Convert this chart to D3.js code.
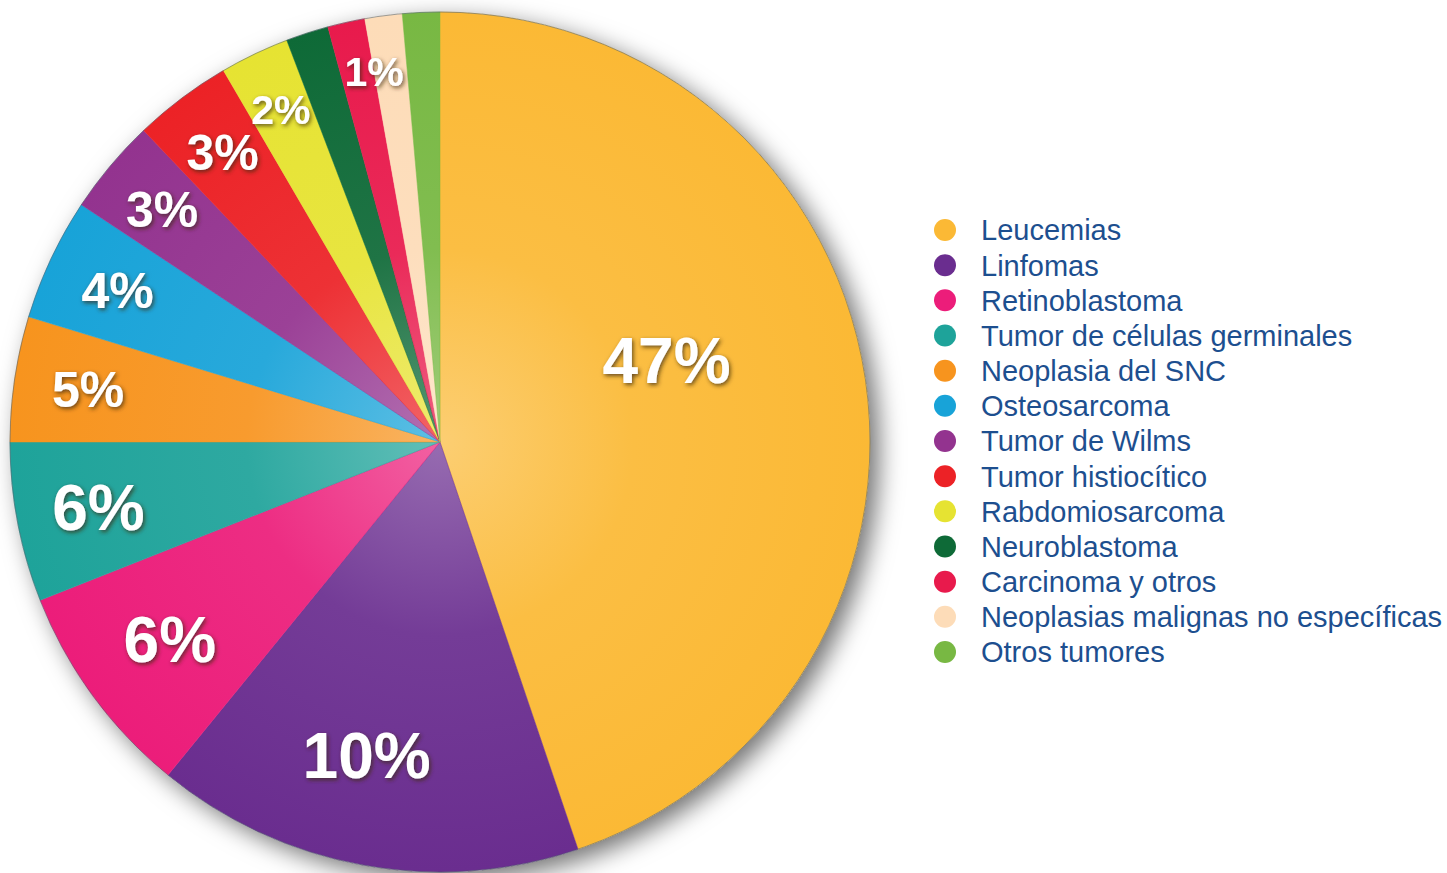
<!DOCTYPE html>
<html>
<head>
<meta charset="utf-8">
<script src="https://cdn.jsdelivr.net/npm/d3@7"></script>
<style>
  html, body { margin: 0; padding: 0; background: #fff; }
  svg { display: block; }
</style>
</head>
<body>
<svg id="chart"></svg>
<script>
// categories, in the order the slices run clockwise from 12 o'clock
const categories = [
  "Leucemias",
  "Linfomas",
  "Retinoblastoma",
  "Tumor de células germinales",
  "Neoplasia del SNC",
  "Osteosarcoma",
  "Tumor de Wilms",
  "Tumor histiocítico",
  "Rabdomiosarcoma",
  "Neuroblastoma",
  "Carcinoma y otros",
  "Neoplasias malignas no específicas",
  "Otros tumores"
];
// slice sizes (share of the circle, %)
const shares = [44.8, 16.1, 8.1, 6.0, 4.7, 4.6, 3.6, 3.7, 2.6, 1.6, 1.4, 1.4, 1.4];
// percentage labels printed on the slices
const sliceLabels = ["47%", "10%", "6%", "6%", "5%", "4%", "3%", "3%", "2%", "", "1%", "", ""];
const colors = [
  "#fbb935", "#6a2d8f", "#ec1d7a", "#1ea39a", "#f7941e", "#18a3d8", "#93338f",
  "#ec2226", "#e6e332", "#0e6a37", "#e81a4c", "#fddcb8", "#78b843"
];

const width = 1447;
const height = 873;
const cx = 440, cy = 442, R = 430;

const svg = d3.select("#chart").attr("width", width).attr("height", height);
const defs = svg.append("defs");

// soft shadow behind the pie
const shadow = defs.append("filter").attr("id", "pieShadow")
  .attr("x", "-20%").attr("y", "-20%").attr("width", "140%").attr("height", "140%");
shadow.append("feDropShadow")
  .attr("dx", 9).attr("dy", 8).attr("stdDeviation", 12)
  .attr("flood-color", "#000").attr("flood-opacity", 0.55);

// shadow under the white percentage labels
const txtShadow = defs.append("filter").attr("id", "txtShadow")
  .attr("x", "-20%").attr("y", "-20%").attr("width", "140%").attr("height", "140%");
txtShadow.append("feDropShadow")
  .attr("dx", 1.5).attr("dy", 2).attr("stdDeviation", 2)
  .attr("flood-color", "#3a2a10").attr("flood-opacity", 0.75);

// lighter toward the middle, full colour at the rim
colors.forEach((c, i) => {
  const g = defs.append("radialGradient").attr("id", "grad" + i)
    .attr("gradientUnits", "userSpaceOnUse")
    .attr("cx", 0).attr("cy", 0).attr("r", R);
  g.append("stop").attr("offset", "0%").attr("stop-color", d3.interpolateRgb(c, "#fff")(0.3));
  g.append("stop").attr("offset", "45%").attr("stop-color", d3.interpolateRgb(c, "#fff")(0.07));
  g.append("stop").attr("offset", "100%").attr("stop-color", c);
});

const data = categories.map((name, i) => ({
  name, value: shares[i], label: sliceLabels[i], color: colors[i], i
}));

const pie = d3.pie().value(d => d.value).sort(null);
const arc = d3.arc().innerRadius(0).outerRadius(R);
const arcs = pie(data);

const g = svg.append("g").attr("transform", `translate(${cx},${cy})`);

g.append("circle").attr("r", R).attr("fill", "#fff").attr("filter", "url(#pieShadow)");

g.selectAll("path.slice")
  .data(arcs)
  .enter()
  .append("path")
  .attr("class", "slice")
  .attr("d", arc)
  .attr("fill", d => `url(#grad${d.data.i})`)
  .attr("stroke", d => d.data.color)
  .attr("stroke-width", 0.5);

g.append("circle").attr("r", R).attr("fill", "none")
  .attr("stroke", "#4d5d68").attr("stroke-width", 0.8).attr("stroke-opacity", 0.7);

// label placement along each slice
function labelPos(d) {
  const span = d.endAngle - d.startAngle;
  const spanDeg = span * 180 / Math.PI;
  let a = (d.startAngle + d.endAngle) / 2;
  let r;
  if (spanDeg > 90) {
    a = d.startAngle + 0.435 * span;
    r = R * 0.56;
  } else if (spanDeg > 40) {
    a = d.startAngle + 0.55 * span;
    r = R * 0.75;
  } else {
    r = R * (0.895 - 0.004 * spanDeg);
    if (spanDeg < 7) a = d.endAngle;
  }
  return [r * Math.sin(a), -r * Math.cos(a)];
}

function labelSize(txt) {
  const v = parseFloat(txt);
  if (v >= 6) return 64;
  if (v >= 3) return 50;
  return 41;
}

g.selectAll("text.pct")
  .data(arcs.filter(d => d.data.label !== ""))
  .enter()
  .append("text")
  .attr("class", "pct")
  .attr("transform", d => `translate(${labelPos(d)})`)
  .attr("text-anchor", "middle")
  .attr("dy", "0.35em")
  .attr("font-family", "'Liberation Sans', Arial, Helvetica, sans-serif")
  .attr("font-weight", "bold")
  .attr("font-size", d => labelSize(d.data.label) + "px")
  .attr("fill", "#fff")
  .attr("filter", "url(#txtShadow)")
  .text(d => d.data.label);

// legend
const legendY = d3.scalePoint()
  .domain(categories)
  .range([230, 652]);

const legend = svg.append("g").attr("class", "legend");
const items = legend.selectAll("g")
  .data(data)
  .enter()
  .append("g")
  .attr("transform", d => `translate(945, ${legendY(d.name)})`);

items.append("circle")
  .attr("r", 11)
  .attr("fill", d => d.color);

items.append("text")
  .attr("x", 36)
  .attr("dy", "0.36em")
  .attr("font-family", "'Liberation Sans', Arial, Helvetica, sans-serif")
  .attr("font-size", "29px")
  .attr("fill", "#1d4f8f")
  .text(d => d.name);
</script>
</body>
</html>
